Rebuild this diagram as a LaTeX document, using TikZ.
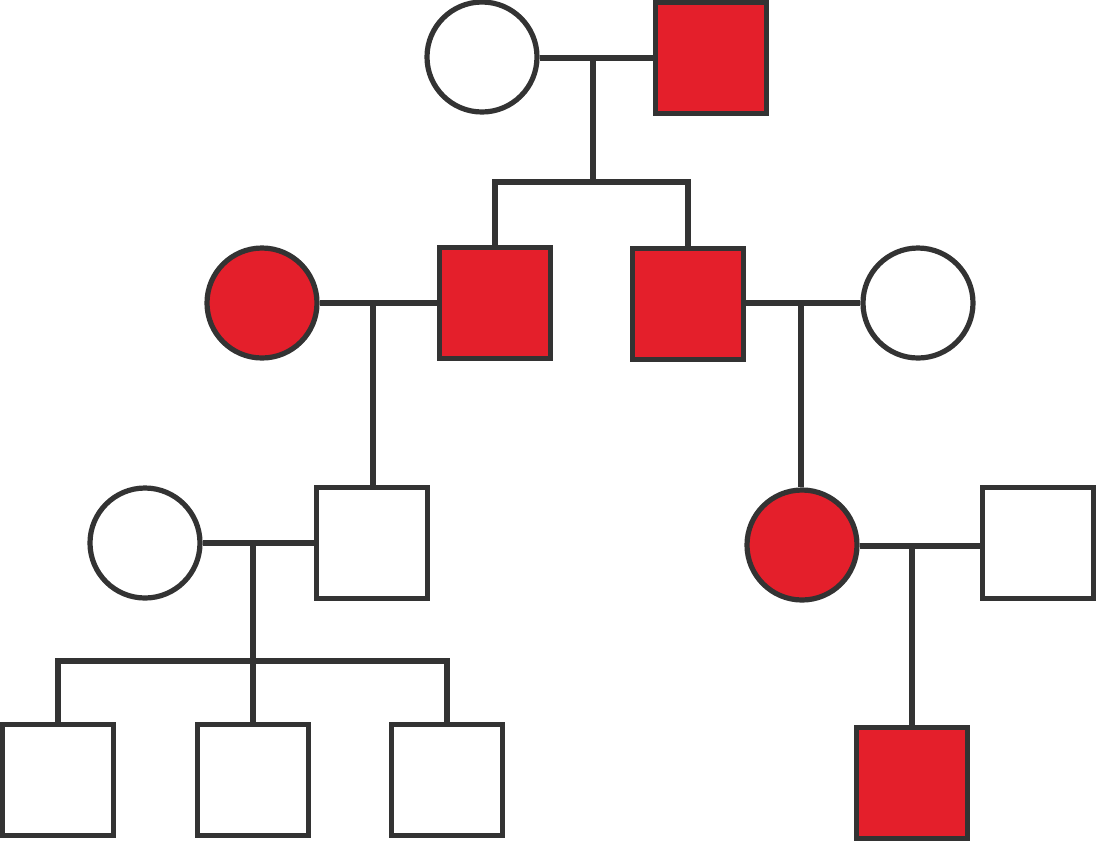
\documentclass[tikz,border=0pt]{standalone}
\begin{document}
\definecolor{affected}{HTML}{E41F2B}
\definecolor{ink}{HTML}{333333}
\begin{tikzpicture}[x=0.5pt,y=-0.5pt,
  male/.style={rectangle, draw=ink, line width=2.6pt, minimum size=55.5pt, inner sep=0pt, fill=white},
  female/.style={circle, draw=ink, line width=2.6pt, minimum size=55pt, inner sep=0pt, fill=white},
  aff/.style={fill=affected},
  link/.style={draw=ink, line width=2.6pt, line join=miter}]
\useasboundingbox (0,0) rectangle (1098,842);
% generation I
\node[female] (f1) at (482,57) {};
\node[male,aff] (m1) at (711,58) {};
% generation II
\node[female,aff] (f21) at (262,303) {};
\node[male,aff] (m21) at (495,303) {};
\node[male,aff] (m22) at (688,304) {};
\node[female] (f22) at (918,303) {};
% generation III
\node[female] (f31) at (145,543) {};
\node[male] (m31) at (372,543) {};
\node[female,aff] (f32) at (802,545) {};
\node[male] (m32) at (1038,543) {};
% generation IV
\node[male] (c1) at (58,780) {};
\node[male] (c2) at (253,780) {};
\node[male] (c3) at (447,780) {};
\node[male,aff] (c4) at (912,783) {};

% couple I and its offspring
\draw[link] (f1.east |- 0,58) -- (m1.west);
\coordinate (d1) at (593,58);
\coordinate (j1) at (593,182);
\draw[link] (d1) -- (j1);
\draw[link] (m21.north) |- (j1) -| (m22.north);

% couple II-left
\draw[link] (f21.east) -- (m21.west);
\coordinate (d2) at (373,303);
\draw[link] (d2) -- (d2 |- m31.north);

% couple II-right
\draw[link] (m22.east |- 0,303) -- (f22.west);
\coordinate (d3) at (801,303);
\draw[link] (d3) -- (d3 |- f32.north);

% couple III-left and its offspring
\draw[link] (f31.east) -- (m31.west);
\coordinate (d4) at (253,543);
\coordinate (j4) at (253,661);
\draw[link] (d4) -- (j4) -- (c2.north);
\draw[link] (c1.north) |- (j4) -| (c3.north);

% couple III-right and its offspring
\draw[link] (f32.east |- 0,546) -- (m32.west |- 0,546);
\coordinate (d5) at (912,546);
\draw[link] (d5) -- (c4.north);
\end{tikzpicture}
\end{document}
